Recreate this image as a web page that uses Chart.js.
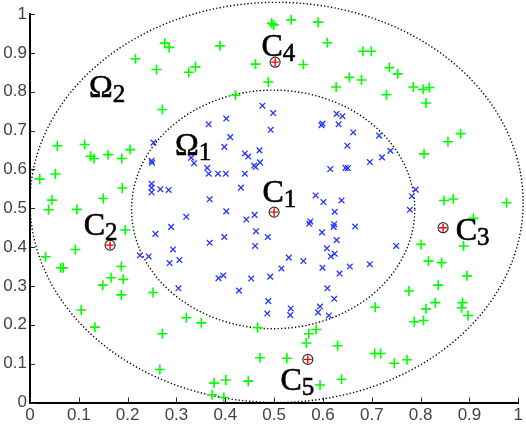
<!DOCTYPE html>
<html>
<head>
<meta charset="utf-8">
<script src="https://cdn.jsdelivr.net/npm/chart.js@4/dist/chart.umd.min.js"></script>
<style>
html,body{margin:0;padding:0;background:#fff;}
canvas{display:block;}
</style>
</head>
<body>
<canvas id="c" width="526" height="424"></canvas>
<script>
// ---- data ----
const xTickValues = [0,0.1,0.2,0.3,0.4,0.5,0.6,0.7,0.8,0.9,1];
const xTickLabels = ['0','0.1','0.2','0.3','0.4','0.5','0.6','0.7','0.8','0.9','1'];
const yTickValues = [0,0.1,0.2,0.3,0.4,0.5,0.6,0.7,0.8,0.9,1];
const yTickLabels = ['0','0.1','0.2','0.3','0.4','0.5','0.6','0.7','0.8','0.9','1'];

// inner region points (blue x)
const innerPoints = [
 [0.253,0.669],[0.249,0.622],[0.250,0.617],[0.249,0.563],[0.249,0.553],[0.249,0.541],[0.267,0.549],[0.284,0.547],
 [0.330,0.630],[0.336,0.616],[0.366,0.716],[0.402,0.731],[0.410,0.683],[0.398,0.658],[0.363,0.604],[0.366,0.589],
 [0.385,0.589],[0.401,0.589],[0.440,0.641],[0.447,0.633],[0.440,0.589],[0.459,0.610],[0.462,0.606],[0.470,0.649],
 [0.471,0.618],[0.432,0.553],[0.368,0.523],[0.402,0.492],[0.476,0.764],[0.498,0.745],[0.493,0.702],[0.628,0.743],
 [0.640,0.737],[0.599,0.718],[0.597,0.714],[0.632,0.716],[0.662,0.695],[0.650,0.661],[0.615,0.601],[0.646,0.604],
 [0.651,0.603],[0.585,0.533],[0.601,0.516],[0.638,0.520],[0.715,0.687],[0.738,0.648],[0.721,0.631],[0.696,0.619],
 [0.790,0.548],[0.782,0.531],[0.778,0.496],[0.320,0.478],[0.289,0.452],[0.257,0.434],[0.293,0.394],[0.225,0.379],
 [0.243,0.376],[0.286,0.359],[0.306,0.367],[0.304,0.294],[0.368,0.411],[0.398,0.426],[0.386,0.320],[0.396,0.327],
 [0.428,0.288],[0.453,0.319],[0.443,0.471],[0.460,0.483],[0.463,0.441],[0.461,0.403],[0.487,0.426],[0.530,0.373],
 [0.515,0.345],[0.560,0.364],[0.492,0.324],[0.488,0.261],[0.486,0.229],[0.534,0.242],[0.533,0.225],[0.594,0.247],
 [0.590,0.232],[0.612,0.224],[0.624,0.491],[0.572,0.460],[0.574,0.466],[0.623,0.459],[0.622,0.452],[0.598,0.438],
 [0.666,0.453],[0.628,0.418],[0.608,0.397],[0.624,0.383],[0.616,0.376],[0.599,0.347],[0.634,0.332],[0.655,0.350],
 [0.609,0.294],[0.623,0.267],[0.750,0.403],[0.696,0.356]
];

// outer ring points (green +)
const outerPoints = [
 [0.276,0.925],[0.285,0.914],[0.216,0.885],[0.259,0.857],[0.325,0.850],[0.339,0.864],[0.271,0.754],[0.389,0.918],
 [0.462,0.871],[0.421,0.791],[0.056,0.661],[0.112,0.664],[0.124,0.634],[0.131,0.628],[0.160,0.638],[0.188,0.628],
 [0.205,0.651],[0.020,0.575],[0.052,0.588],[0.189,0.552],[0.150,0.525],[0.045,0.521],[0.096,0.497],[0.038,0.496],
 [0.495,0.976],[0.499,0.972],[0.535,0.985],[0.590,0.979],[0.609,0.926],[0.560,0.870],[0.488,0.825],[0.654,0.837],
 [0.679,0.830],[0.627,0.812],[0.682,0.904],[0.699,0.904],[0.736,0.862],[0.753,0.846],[0.785,0.812],[0.805,0.806],
 [0.818,0.811],[0.730,0.792],[0.811,0.771],[0.882,0.692],[0.856,0.671],[0.807,0.640],[0.848,0.520],[0.867,0.524],
 [0.976,0.514],[0.195,0.444],[0.093,0.394],[0.032,0.375],[0.063,0.347],[0.068,0.347],[0.187,0.350],[0.166,0.321],
 [0.191,0.317],[0.149,0.302],[0.187,0.277],[0.252,0.283],[0.105,0.238],[0.133,0.194],[0.320,0.218],[0.271,0.177],
 [0.266,0.085],[0.351,0.205],[0.377,0.050],[0.401,0.058],[0.447,0.055],[0.373,0.020],[0.397,0.013],[0.466,0.193],
 [0.471,0.115],[0.526,0.114],[0.571,0.177],[0.586,0.188],[0.566,0.153],[0.630,0.146],[0.638,0.060],[0.594,0.045],
 [0.908,0.474],[0.801,0.407],[0.888,0.403],[0.816,0.364],[0.843,0.360],[0.895,0.326],[0.836,0.302],[0.776,0.287],
 [0.830,0.257],[0.811,0.241],[0.886,0.257],[0.884,0.244],[0.897,0.224],[0.787,0.208],[0.806,0.211],[0.707,0.245],
 [0.706,0.126],[0.718,0.126],[0.746,0.101],[0.772,0.110]
];

// cluster centres C1..C5
const centerX = [0.500,0.164,0.846,0.502,0.569];
const centerY = [0.490,0.405,0.450,0.876,0.111];
const centerNames = ['C','C','C','C','C'];
const centerSubs = ['1','2','3','4','5'];

// region labels
const regionNames = ['Ω','Ω'];
const regionSubs = ['1','2'];

// region boundaries (centre x, centre y, radius x, radius y) in data units
const innerBoundary = [0.498,0.497,0.290,0.307];
const outerBoundary = [0.505,0.515,0.505,0.515];

// ---- label anchors (data coords, left/baseline) ----
const centerLabelAnchors = [[0.476,0.516],[0.110,0.430],[0.872,0.418],[0.474,0.892],[0.513,0.031]];
const regionLabelAnchors = [[0.297,0.637],[0.121,0.787]];

const toXY = arr => arr.map(p => ({x:p[0], y:p[1]}));

const boundaryPlugin = {
  id:'boundaries',
  beforeDatasetsDraw(chart){
    const {ctx, scales:{x,y}} = chart;
    ctx.save();
    ctx.strokeStyle = '#000';
    ctx.lineWidth = 1.4;
    ctx.setLineDash([1.3,2.2]);
    [innerBoundary, outerBoundary].forEach(b => {
      const cx = x.getPixelForValue(b[0]);
      const cy = y.getPixelForValue(b[1]);
      const rx = Math.abs(x.getPixelForValue(b[0]+b[2]) - cx);
      const ry = Math.abs(y.getPixelForValue(b[1]+b[3]) - cy);
      ctx.beginPath();
      ctx.ellipse(cx, cy, rx, ry, 0, 0, Math.PI*2);
      ctx.stroke();
    });
    ctx.restore();
  },
  afterDraw(chart){
    const {ctx, scales:{x,y}, chartArea} = chart;
    ctx.save();
    // inward tick marks
    ctx.strokeStyle = '#222';
    ctx.lineWidth = 1;
    xTickValues.forEach(v => {
      const px = Math.round(x.getPixelForValue(v)) + 0.5;
      ctx.beginPath(); ctx.moveTo(px, chartArea.bottom); ctx.lineTo(px, chartArea.bottom - 5); ctx.stroke();
    });
    yTickValues.forEach(v => {
      const py = Math.round(y.getPixelForValue(v)) + 0.5;
      ctx.beginPath(); ctx.moveTo(chartArea.left, py); ctx.lineTo(chartArea.left + 5, py); ctx.stroke();
    });
    // labels with subscripts
    const drawLabel = (main, sub, ax, ay) => {
      const px = x.getPixelForValue(ax);
      const py = y.getPixelForValue(ay);
      ctx.fillStyle = '#000';
      ctx.strokeStyle = '#000';
      ctx.lineWidth = 0.6;
      ctx.textAlign = 'left';
      ctx.textBaseline = 'alphabetic';
      ctx.font = '32px "Liberation Serif", "Times New Roman", serif';
      ctx.fillText(main, px, py);
      ctx.strokeText(main, px, py);
      const w = ctx.measureText(main).width;
      ctx.font = '25px "Liberation Serif", "Times New Roman", serif';
      ctx.fillText(sub, px + w, py + 5);
      ctx.strokeText(sub, px + w, py + 5);
    };
    centerNames.forEach((n,i) => drawLabel(n, centerSubs[i], centerLabelAnchors[i][0], centerLabelAnchors[i][1]));
    regionNames.forEach((n,i) => drawLabel(n, regionSubs[i], regionLabelAnchors[i][0], regionLabelAnchors[i][1]));
    ctx.restore();
  }
};

const tickFont = {family:'"Liberation Sans", Arial, sans-serif', size:17};

new Chart(document.getElementById('c'), {
  type:'scatter',
  data:{
    datasets:[
      {
        label:'inner',
        data: toXY(innerPoints),
        pointStyle:'crossRot',
        pointRadius:4,
        borderColor:'rgb(35,55,255)',
        borderWidth:1.3,
        showLine:false,
        order:4
      },
      {
        label:'outer',
        data: toXY(outerPoints),
        pointStyle:'cross',
        pointRadius:5,
        borderColor:'#00ff00',
        borderWidth:1.6,
        showLine:false,
        order:3
      },
      {
        label:'centres',
        data: centerX.map((v,i) => ({x:v, y:centerY[i]})),
        pointStyle:'circle',
        pointRadius:5,
        backgroundColor:'#ffffff',
        borderColor:'#333',
        borderWidth:1.2,
        showLine:false,
        order:2
      },
      {
        label:'centresPlus',
        data: centerX.map((v,i) => ({x:v, y:centerY[i]})),
        pointStyle:'cross',
        pointRadius:4,
        borderColor:'#ff0000',
        borderWidth:1.4,
        showLine:false,
        order:1
      }
    ]
  },
  options:{
    responsive:false,
    animation:false,
    events:[],
    layout:{padding:{top:14, right:3, left:0, bottom:0}},
    plugins:{legend:{display:false}, tooltip:{enabled:false}},
    scales:{
      x:{
        type:'linear', min:0, max:1,
        afterBuildTicks: s => { s.ticks = xTickValues.map(v => ({value:v})); },
        afterFit: s => { s.height = 21.5; },
        ticks:{
          autoSkip:false, maxRotation:0, padding:3,
          color:'#444', font:tickFont,
          callback:(v,i) => xTickLabels[i]
        },
        grid:{display:false, drawTicks:false},
        border:{display:true, color:'#000', width:2}
      },
      y:{
        type:'linear', min:0, max:1,
        afterBuildTicks: s => { s.ticks = yTickValues.map(v => ({value:v})); },
        afterFit: s => { s.width = 30; },
        ticks:{
          autoSkip:false, padding:3,
          color:'#444', font:tickFont,
          callback:(v,i) => yTickLabels[i]
        },
        grid:{display:false, drawTicks:false},
        border:{display:true, color:'#000', width:2}
      }
    }
  },
  plugins:[boundaryPlugin]
});
</script>
</body>
</html>
